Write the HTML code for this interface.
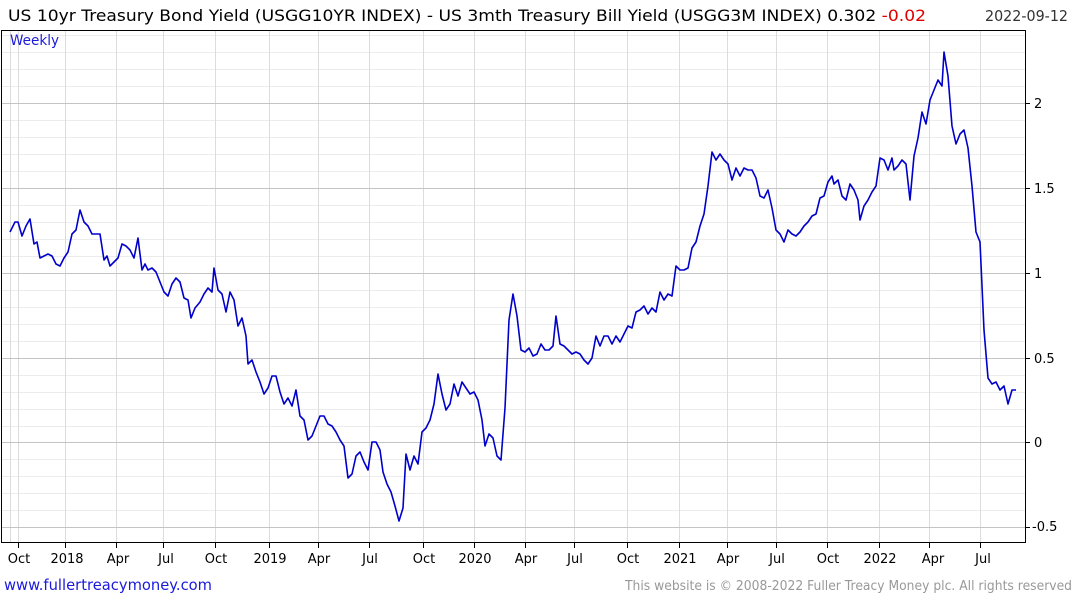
<!DOCTYPE html>
<html><head><meta charset="utf-8"><style>
body{margin:0;background:#fff;width:1075px;height:600px;overflow:hidden;font-family:"DejaVu Sans",sans-serif}
</style></head><body>
<svg width="1075" height="600" xmlns="http://www.w3.org/2000/svg" font-family="DejaVu Sans, Liberation Sans, sans-serif">
<g stroke="#ececec" stroke-width="1">
<path d="M2 52.5H1026M2 69.5H1026M2 86.5H1026M2 120.5H1026M2 137.5H1026M2 154.5H1026M2 171.5H1026M2 205.5H1026M2 222.5H1026M2 239.5H1026M2 256.5H1026M2 290.5H1026M2 307.5H1026M2 324.5H1026M2 341.5H1026M2 375.5H1026M2 392.5H1026M2 409.5H1026M2 426.5H1026M2 459.5H1026M2 476.5H1026M2 493.5H1026M2 510.5H1026M2 35.5H1026"/>
</g>
<g stroke="#dcdcdc" stroke-width="1">
<path d="M10.5 30V543M18.5 30V543M65.5 30V543M116.5 30V543M163.5 30V543M215.5 30V543M269.5 30V543M318.5 30V543M369.5 30V543M423.5 30V543M474.5 30V543M525.5 30V543M574.5 30V543M627.5 30V543M679.5 30V543M727.5 30V543M776.5 30V543M827.5 30V543M879.5 30V543M929.5 30V543M980.5 30V543"/>
</g>
<g stroke="#c4c4c4" stroke-width="1">
<path d="M2 103.5H1026M2 188.5H1026M2 273.5H1026M2 358.5H1026M2 442.5H1026M2 527.5H1026"/>
</g>
<rect x="1.5" y="30.5" width="1024" height="512" fill="none" stroke="#000"/>
<g stroke="#000"><path d="M1026 103.5h4M1026 188.5h4M1026 273.5h4M1026 358.5h4M1026 442.5h4M1026 527.5h4M18.5 543v5M65.5 543v5M116.5 543v5M163.5 543v5M215.5 543v5M269.5 543v5M318.5 543v5M369.5 543v5M423.5 543v5M474.5 543v5M525.5 543v5M574.5 543v5M627.5 543v5M679.5 543v5M727.5 543v5M776.5 543v5M827.5 543v5M879.5 543v5M929.5 543v5M980.5 543v5"/></g>
<text x="10" y="45" font-size="14" fill="#1a1adc" textLength="49" lengthAdjust="spacingAndGlyphs">Weekly</text>
<text x="8" y="21" font-size="16" fill="#000" textLength="918" lengthAdjust="spacingAndGlyphs">US 10yr Treasury Bond Yield (USGG10YR INDEX) - US 3mth Treasury Bill Yield (USGG3M INDEX) 0.302 <tspan fill="#e00000">-0.02</tspan></text>
<text x="985" y="21" font-size="15" fill="#333" textLength="83" lengthAdjust="spacingAndGlyphs">2022-09-12</text>
<g font-size="13" fill="#000">
<text x="1034" y="108">2</text><text x="1034" y="193">1.5</text><text x="1034" y="278">1</text><text x="1034" y="363">0.5</text><text x="1034" y="447">0</text><text x="1032" y="531">-0.5</text>
</g>
<g font-size="13" fill="#000" text-anchor="middle">
<text x="19" y="563">Oct</text><text x="67" y="563">2018</text><text x="118" y="563">Apr</text><text x="166" y="563">Jul</text><text x="216" y="563">Oct</text><text x="270" y="563">2019</text><text x="319" y="563">Apr</text><text x="370" y="563">Jul</text><text x="424" y="563">Oct</text><text x="475" y="563">2020</text><text x="526" y="563">Apr</text><text x="575" y="563">Jul</text><text x="628" y="563">Oct</text><text x="680" y="563">2021</text><text x="728" y="563">Apr</text><text x="777" y="563">Jul</text><text x="828" y="563">Oct</text><text x="880" y="563">2022</text><text x="933" y="563">Apr</text><text x="983" y="563">Jul</text>
</g>
<text x="4" y="590" font-size="15" fill="#1a1adc" textLength="208" lengthAdjust="spacingAndGlyphs">www.fullertreacymoney.com</text>
<text x="625" y="590" font-size="13" fill="#999" textLength="447" lengthAdjust="spacingAndGlyphs">This website is © 2008-2022 Fuller Treacy Money plc. All rights reserved</text>
<polyline fill="none" stroke="#0000cc" stroke-width="1.6" stroke-linejoin="round" points="10,232 15,222 18,222 22,236 26,226 30,219 34,244 37,242 40,258 44,256 48,254 52,256 56,264 60,266 64,258 68,252 72,234 76,230 80,210 84,222 88,226 92,234 96,234 100,234 104,260 107,256 110,266 114,262 118,258 122,244 126,246 130,250 134,258 138,238 142,270 145,264 148,270 152,268 156,272 160,282 164,292 168,296 172,284 176,278 180,282 184,298 188,300 191,318 195,308 200,302 204,294 208,288 212,292 214,268 218,290 222,294 226,312 230,292 234,300 238,326 242,318 246,336 248,364 252,360 256,372 260,382 264,394 268,388 272,376 276,376 280,392 284,404 288,398 292,406 296,390 300,416 304,420 308,440 312,436 316,426 320,416 324,416 328,424 332,426 336,432 340,440 344,446 348,478 352,474 356,456 360,452 364,462 368,470 372,442 376,442 380,450 383,472 387,484 391,492 395,506 399,521 403,508 406,454 410,470 414,456 418,464 422,432 426,428 430,420 434,404 438,374 442,394 446,410 450,404 454,384 458,396 462,382 466,388 470,394 474,392 478,400 482,420 485,446 489,434 493,438 497,456 501,460 505,408 509,320 513,294 517,316 521,350 525,352 529,348 533,356 537,354 541,344 545,350 549,350 553,346 556,316 560,344 564,346 568,350 572,354 576,352 580,354 584,360 588,364 592,358 596,336 600,346 604,336 608,336 612,344 616,336 620,342 624,334 628,326 632,328 636,312 640,310 644,306 648,314 652,308 656,312 660,292 664,300 668,294 672,296 676,266 680,270 684,270 688,268 692,248 696,242 700,226 704,214 708,186 712,152 716,160 720,154 724,160 728,164 732,180 736,168 740,176 744,168 748,170 752,170 756,178 760,196 764,198 768,190 772,208 776,230 780,234 784,242 788,230 792,234 796,236 800,232 804,226 808,222 812,216 816,214 820,198 824,196 828,182 832,176 834,184 838,180 842,196 846,200 850,184 854,190 858,200 860,220 864,206 868,200 872,192 876,186 880,158 884,160 888,170 892,158 894,170 898,166 902,160 906,164 910,200 914,156 918,138 922,112 926,124 930,100 934,90 938,80 942,86 944,52 948,76 952,126 956,144 960,134 964,130 968,148 972,186 976,232 980,242 984,330 988,378 992,384 996,382 1000,390 1004,386 1008,404 1012,390 1016,390"/>
</svg>
</body></html>
